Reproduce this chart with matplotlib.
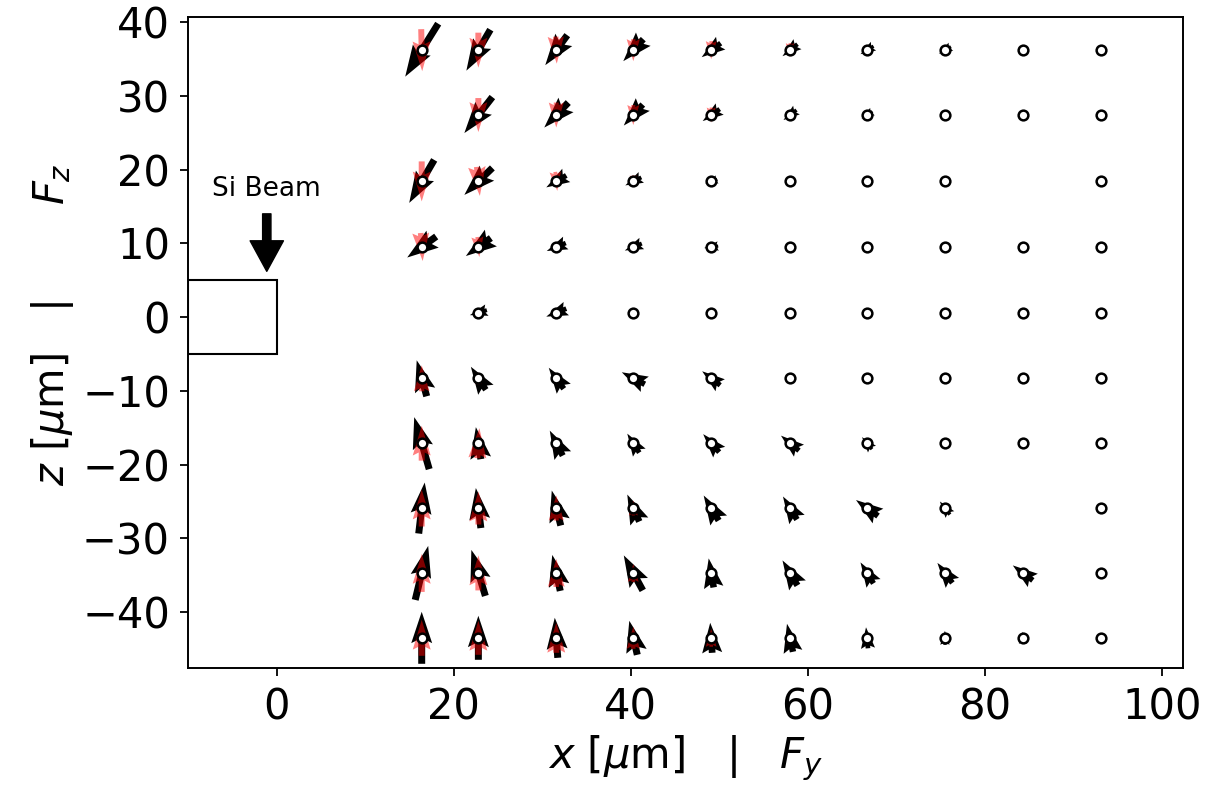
import numpy as np
import matplotlib
matplotlib.use('Agg')
import matplotlib.pyplot as plt
from matplotlib.patches import Rectangle

# grid of measurement points [um]
x_pos = [16.4, 22.8, 31.6, 40.3, 49.1, 58.0, 66.7, 75.5, 84.3, 93.1]
z_pos = [36.2, 27.4, 18.4, 9.5, 0.6, -8.3, -17.1, -25.9, -34.7, -43.5]

nan = np.nan
# measured force (black), Fy and Fz, one row per z
meas_fy = [
    [-3.3, -2.4, -2.2, -2.0, -1.9, -1.5, -1.3, -1.2, -0.8, -0.8],
    [nan, -2.8, -2.4, -1.9, -1.7, -1.3, -1.1, -0.9, -0.3, -0.6],
    [-2.5, -2.8, -2.0, -1.6, -1.2, -1.0, -0.3, -0.2, nan, 0.0],
    [-2.9, -2.5, -1.9, -1.7, -1.4, -1.0, -0.7, -0.5, 0.0, 0.0],
    [nan, -1.7, -2.0, -0.5, -0.4, -0.2, -0.3, 0.0, -0.6, -0.2],
    [-1.0, -1.5, -1.5, -2.3, -1.8, -0.5, -0.3, -0.8, -0.3, -0.2],
    [-1.5, -0.5, -1.3, -1.2, -1.6, -1.8, -1.0, -0.3, -0.5, -0.3],
    [0.6, -0.5, -0.9, -1.2, -1.5, -1.4, -2.2, -1.0, nan, -0.3],
    [1.3, -1.4, -0.8, -1.9, -0.5, -1.5, -1.3, -1.5, -2.0, -0.3],
    [0.0, 0.0, -0.3, -0.8, -0.2, -0.6, -0.2, 0.0, 0.0, -0.2],
]
meas_fz = [
    [-5.3, -4.1, -3.0, -2.2, -1.4, -1.2, -0.8, -0.7, -0.5, -0.4],
    [nan, -3.6, -2.5, -2.1, -1.2, -1.0, -0.7, -0.5, -0.2, -0.2],
    [-4.3, -2.7, -1.2, -0.8, -0.4, -0.3, 0.0, 0.0, nan, 0.0],
    [-2.1, -1.8, -0.8, -0.7, -0.2, -0.1, 0.0, 0.0, 0.0, 0.0],
    [nan, -0.5, -0.8, -0.2, -0.3, -0.1, -0.2, 0.0, -0.3, 0.0],
    [3.6, 2.3, 2.1, 1.2, 1.4, 0.7, 0.3, 0.5, 0.2, 0.2],
    [5.2, 3.2, 2.5, 1.9, 1.8, 1.5, 1.2, 0.6, 0.5, 0.3],
    [5.1, 4.0, 3.5, 2.7, 2.5, 2.3, 1.6, 1.3, nan, 0.4],
    [5.4, 4.6, 3.6, 3.5, 2.9, 2.5, 2.1, 2.0, 1.5, 0.5],
    [5.2, 4.4, 4.0, 3.4, 3.0, 2.8, 2.1, 1.4, 1.2, 1.0],
]
# simulated force (red)
sim_fy = [
    [0.1, 0.0, 0.1, 0.0, 0.0, 0.0, 0.0, 0.0, 0.0, 0.0],
    [nan, 0.0, 0.0, 0.0, 0.0, 0.0, 0.0, 0.0, 0.0, 0.0],
    [0.0, 0.3, 0.2, 0.0, 0.0, 0.0, 0.0, 0.0, nan, 0.0],
    [0.2, 0.2, 0.0, 0.0, 0.0, 0.0, 0.0, 0.0, 0.0, 0.0],
    [nan, 0.0, 0.0, 0.0, 0.0, 0.0, 0.0, 0.0, 0.0, 0.0],
    [0.0, 0.0, 0.0, 0.0, 0.0, 0.0, 0.0, 0.0, 0.0, 0.0],
    [0.0, 0.2, 0.0, 0.0, 0.0, 0.0, 0.0, 0.0, 0.0, 0.0],
    [0.0, 0.0, 0.0, 0.0, 0.0, 0.0, 0.0, 0.0, nan, 0.0],
    [0.0, 0.0, 0.0, 0.0, 0.0, 0.0, 0.0, 0.0, 0.0, 0.0],
    [0.0, 0.0, 0.0, 0.0, 0.0, 0.0, 0.0, 0.0, 0.0, 0.0],
]
sim_fz = [
    [-4.2, -3.5, -2.7, -2.2, -1.8, -1.4, -1.0, -0.8, -0.5, -0.3],
    [nan, -3.4, -2.5, -2.0, -1.5, -1.0, -0.6, -0.4, -0.1, 0.0],
    [-4.0, -2.9, -1.9, -1.2, -0.5, -0.3, -0.1, 0.0, nan, 0.0],
    [-2.8, -2.0, -0.6, -0.4, -0.2, 0.0, 0.0, 0.0, 0.0, 0.0],
    [nan, 0.0, 0.0, 0.0, 0.0, 0.0, 0.0, 0.0, 0.0, 0.0],
    [2.6, 1.2, 0.2, 0.0, 0.0, 0.0, 0.0, 0.0, 0.0, 0.0],
    [3.5, 3.0, 1.2, 0.8, 0.3, 0.1, 0.0, 0.0, 0.0, 0.0],
    [3.7, 3.3, 2.5, 1.5, 0.8, 0.3, 0.1, 0.0, nan, 0.0],
    [3.8, 3.5, 2.8, 1.8, 1.2, 0.8, 0.3, 0.1, 0.0, 0.0],
    [3.6, 3.4, 3.0, 2.2, 1.8, 1.2, 0.8, 0.3, 0.1, 0.0],
]

X, Z = np.meshgrid(x_pos, z_pos)
mfy = np.array(meas_fy)
mfz = np.array(meas_fz)
sfy = np.array(sim_fy)
sfz = np.array(sim_fz)
ok = ~np.isnan(mfy)

fig = plt.figure(figsize=(12.16, 7.9), dpi=100)
ax = fig.add_axes([0.1546, 0.1544, 0.9729 - 0.1546, 0.9785 - 0.1544])

ax.quiver(X[ok], Z[ok], mfy[ok], mfz[ok], color='k', pivot='mid',
          scale_units='dots', scale=0.1, width=0.007, headlength=4.5,
          headaxislength=4, zorder=2)
ax.quiver(X[ok], Z[ok], sfy[ok], sfz[ok], color='r', alpha=0.5, pivot='mid',
          scale_units='dots', scale=0.1, width=0.006, zorder=3)
ax.plot(X[ok], Z[ok], 'o', ms=7, mfc='w', mec='k', mew=1.8, zorder=4)

# silicon beam cross-section
ax.add_patch(Rectangle((-10, -5), 10, 10, fill=False, ec='k', lw=1.5))
ax.text(-1.1, 15.6, 'Si Beam', ha='center', va='bottom', fontsize=19)
ax.annotate('', xy=(-1.1, 6.2), xytext=(-1.1, 14.0),
            arrowprops=dict(facecolor='k', edgecolor='k', width=6,
                            headwidth=24, headlength=22))

ax.set_xlim(-10, 102.4)
ax.set_ylim(-47.6, 40.7)
ax.set_xticks([0, 20, 40, 60, 80, 100])
ax.set_yticks([-40, -30, -20, -10, 0, 10, 20, 30, 40])
ax.tick_params(labelsize=30, width=1.3, length=6, pad=7)
for s in ax.spines.values():
    s.set_linewidth(1.4)
ax.set_xlabel(r'$x$ [$\mu$m]   |   $F_y$', fontsize=30, labelpad=4)
ax.set_ylabel(r'$z$ [$\mu$m]   |       $F_z$', fontsize=30, labelpad=4,
              y=0.528)

fig.savefig('out.png', dpi=100)
